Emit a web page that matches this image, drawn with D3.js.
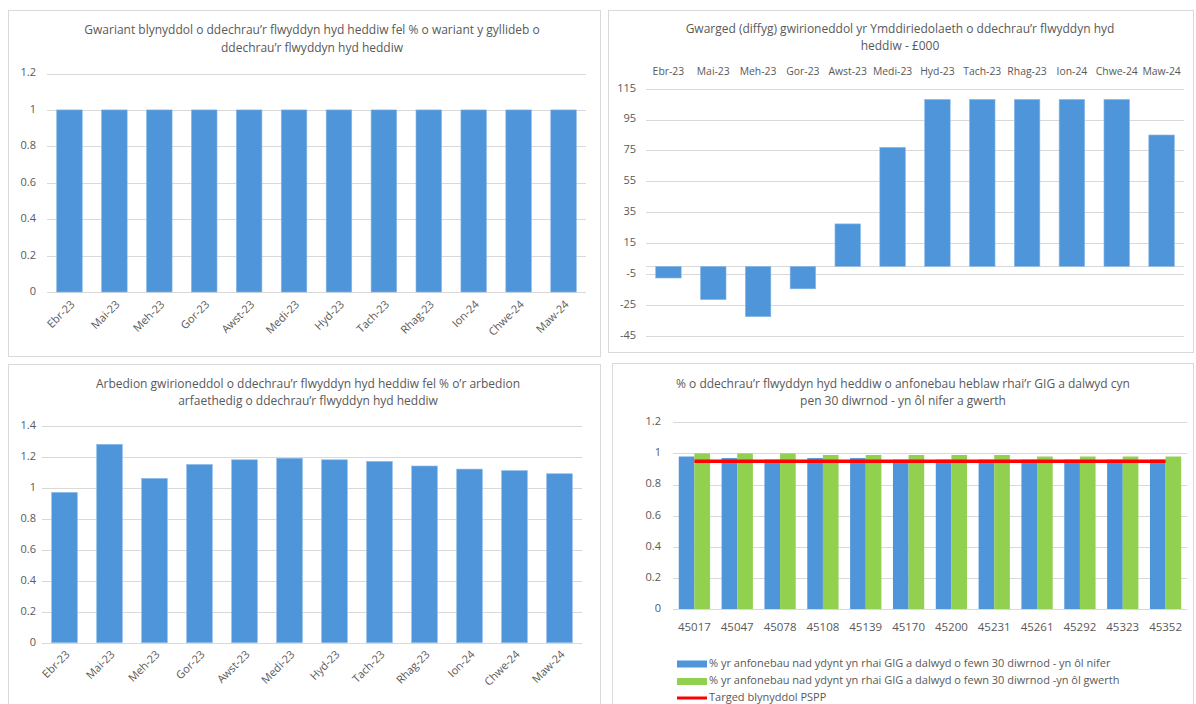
<!DOCTYPE html>
<html>
<head>
<meta charset="utf-8">
<script src="https://cdn.jsdelivr.net/npm/d3@7"></script>
<style>
  html, body { margin: 0; padding: 0; background: #fff; }
  svg { display: block; font-family: "Segoe UI", "Open Sans", "Noto Sans", sans-serif; }
  .tick-label { fill: #595959; font-size: 11px; }
  .title { fill: #595959; font-size: 12px; }
</style>
</head>
<body>
<div id="chart"></div>
<script>
// ---- data ----
const months = ['Ebr-23', 'Mai-23', 'Meh-23', 'Gor-23', 'Awst-23', 'Medi-23', 'Hyd-23', 'Tach-23', 'Rhag-23', 'Ion-24', 'Chwe-24', 'Maw-24'];
const spendRatio = [1, 1, 1, 1, 1, 1, 1, 1, 1, 1, 1, 1];
const surplus = [-7.5, -21.5, -32.5, -14.5, 27.5, 77, 108, 108, 108, 108, 108, 85];
const savingsRatio = [0.97, 1.28, 1.06, 1.15, 1.18, 1.19, 1.18, 1.17, 1.14, 1.12, 1.11, 1.09];
const invoiceDates = ['45017', '45047', '45078', '45108', '45139', '45170', '45200', '45231', '45261', '45292', '45323', '45352'];
const paidByNumber = [0.98, 0.97, 0.96, 0.97, 0.97, 0.96, 0.96, 0.96, 0.96, 0.96, 0.96, 0.96];
const paidByValue = [1.0, 1.0, 1.0, 0.99, 0.99, 0.99, 0.99, 0.99, 0.98, 0.98, 0.98, 0.98];
const pspTarget = 0.95;

const ticks1 = [0, 0.2, 0.4, 0.6, 0.8, 1, 1.2];
const ticks2 = [-45, -25, -5, 15, 35, 55, 75, 95, 115];
const ticks3 = [0, 0.2, 0.4, 0.6, 0.8, 1, 1.2, 1.4];
const ticks4 = [0, 0.2, 0.4, 0.6, 0.8, 1, 1.2];

const titles1 = ['Gwariant blynyddol o ddechrau\u2019r flwyddyn hyd heddiw fel % o wariant y gyllideb o', 'ddechrau\u2019r flwyddyn hyd heddiw'];
const titles2 = ['Gwarged (diffyg) gwirioneddol yr Ymddiriedolaeth o ddechrau\u2019r flwyddyn hyd', 'heddiw - \u00a3000'];
const titles3 = ['Arbedion gwirioneddol o ddechrau\u2019r flwyddyn hyd heddiw fel % o\u2019r arbedion', 'arfaethedig o ddechrau\u2019r flwyddyn hyd heddiw'];
const titles4 = ['% o ddechrau\u2019r flwyddyn hyd heddiw o anfonebau heblaw rhai\u2019r GIG a dalwyd cyn', 'pen 30 diwrnod  - yn \u00f4l nifer a gwerth'];
const legend4 = [
  '% yr anfonebau nad ydynt yn rhai GIG a dalwyd o fewn 30 diwrnod - yn \u00f4l nifer',
  '% yr anfonebau nad ydynt yn rhai GIG a dalwyd o fewn 30 diwrnod -yn \u00f4l gwerth',
  'Targed blynyddol PSPP'
];

const C = { blue: '#4f95d9', blueEdge: '#8dbbe8', green: '#92d050', red: '#ff0000', grid: '#d9d9d9', text: '#595959', border: '#d9d9d9' };
const fmt = d => String(+d.toFixed(1));

const W = 1196, H = 704;
const svg = d3.select('#chart').append('svg').attr('width', W).attr('height', H);

function panelBox(x, y, w, h) {
  svg.append('rect').attr('x', x + 0.5).attr('y', y + 0.5).attr('width', w).attr('height', h)
    .attr('fill', '#fff').attr('stroke', C.border).attr('stroke-width', 1);
}

function panelTitle(lines, cx, y0, dy) {
  lines.forEach((t, i) => {
    svg.append('text').attr('class', 'title').attr('x', cx).attr('y', y0 + i * dy)
      .attr('text-anchor', 'middle').attr('dominant-baseline', 'middle').text(t);
  });
}

function yGrid(y, ticks, x0, x1, labelX) {
  const g = svg.append('g');
  g.selectAll('line').data(ticks).enter().append('line')
    .attr('x1', x0).attr('x2', x1)
    .attr('y1', d => Math.round(y(d)) + 0.5).attr('y2', d => Math.round(y(d)) + 0.5)
    .attr('stroke', C.grid).attr('stroke-width', 1);
  g.selectAll('text').data(ticks).enter().append('text')
    .attr('class', 'tick-label').attr('x', labelX).attr('y', d => y(d))
    .attr('text-anchor', 'end').attr('dominant-baseline', 'middle').text(fmt);
}

function bars(x, y, cats, vals, color, edge) {
  svg.append('g').selectAll('rect').data(vals).enter().append('rect')
    .attr('x', (d, i) => x(cats[i]))
    .attr('width', x.bandwidth())
    .attr('y', d => Math.min(y(d), y(0)))
    .attr('height', d => Math.abs(y(d) - y(0)))
    .attr('fill', color)
    .attr('stroke', edge).attr('stroke-width', 0.6);
}

function rotatedLabels(x, cats, yPos) {
  svg.append('g').selectAll('text').data(cats).enter().append('text')
    .attr('class', 'tick-label')
    .attr('text-anchor', 'end')
    .attr('transform', d => `translate(${x(d) + x.bandwidth() / 2 + 6},${yPos}) rotate(-45)`)
    .text(d => d);
}

// ---- panel 1: spend ratio ----
panelBox(8, 10, 592, 346);
panelTitle(titles1, 312, 31, 18);
{
  const x = d3.scaleBand().domain(months).range([47, 586]).paddingInner(0.43).paddingOuter(0.215);
  const y = d3.scaleLinear().domain([0, 1.2]).range([292, 73.5]);
  yGrid(y, ticks1, 47, 586, 36);
  bars(x, y, months, spendRatio, C.blue, C.blueEdge);
  rotatedLabels(x, months, 305);
}

// ---- panel 2: surplus (deficit) ----
panelBox(608, 10, 585, 342);
panelTitle(titles2, 900, 30, 17);
{
  const x = d3.scaleBand().domain(months).range([646, 1184]).paddingInner(0.43).paddingOuter(0.215);
  const y = d3.scaleLinear().domain([-45, 115]).range([336, 88.6]);
  yGrid(y, ticks2, 646, 1184, 636);
  svg.append('line').attr('x1', 646).attr('x2', 1184)
    .attr('y1', Math.round(y(0)) + 0.5).attr('y2', Math.round(y(0)) + 0.5)
    .attr('stroke', C.grid);
  bars(x, y, months, surplus, C.blue, C.blueEdge);
  svg.append('g').selectAll('text').data(months).enter().append('text')
    .attr('class', 'tick-label').style('font-size', '10.4px')
    .attr('x', d => x(d) + x.bandwidth() / 2).attr('y', 72)
    .attr('text-anchor', 'middle').attr('dominant-baseline', 'middle').text(d => d);
}

// ---- panel 3: savings ratio ----
panelBox(8, 364, 592, 360);
panelTitle(titles3, 308, 385, 17);
{
  const x = d3.scaleBand().domain(months).range([42, 582]).paddingInner(0.43).paddingOuter(0.215);
  const y = d3.scaleLinear().domain([0, 1.4]).range([642.7, 425.7]);
  yGrid(y, ticks3, 42, 582, 36);
  bars(x, y, months, savingsRatio, C.blue, C.blueEdge);
  rotatedLabels(x, months, 655);
}

// ---- panel 4: invoices paid within 30 days ----
panelBox(612, 363, 581, 360);
panelTitle(titles4, 903, 385, 17);
{
  const x = d3.scaleBand().domain(invoiceDates).range([673, 1187]).paddingInner(0.27).paddingOuter(0.135);
  const xs = d3.scaleBand().domain(['n', 'v']).range([0, x.bandwidth()]);
  const y = d3.scaleLinear().domain([0, 1.2]).range([609, 422.3]);
  yGrid(y, ticks4, 673, 1187, 661);

  const groups = svg.append('g').selectAll('g').data(invoiceDates).enter().append('g')
    .attr('transform', d => `translate(${x(d)},0)`);
  groups.append('rect')
    .attr('x', xs('n')).attr('width', xs.bandwidth())
    .attr('y', (d, i) => y(paidByNumber[i])).attr('height', (d, i) => y(0) - y(paidByNumber[i]))
    .attr('fill', C.blue);
  groups.append('rect')
    .attr('x', xs('v')).attr('width', xs.bandwidth())
    .attr('y', (d, i) => y(paidByValue[i])).attr('height', (d, i) => y(0) - y(paidByValue[i]))
    .attr('fill', C.green);

  const line = d3.line().x(d => x(d) + x.bandwidth() / 2).y(() => y(pspTarget));
  svg.append('path').datum(invoiceDates).attr('d', line)
    .attr('fill', 'none').attr('stroke', C.red).attr('stroke-width', 3.5);

  svg.append('g').selectAll('text').data(invoiceDates).enter().append('text')
    .attr('class', 'tick-label').style('font-size', '11.5px')
    .attr('x', d => x(d) + x.bandwidth() / 2).attr('y', 628)
    .attr('text-anchor', 'middle').attr('dominant-baseline', 'middle').text(d => d);

  // legend
  const lg = svg.append('g').attr('transform', 'translate(677,664)');
  [C.blue, C.green].forEach((c, i) => {
    lg.append('rect').attr('x', 0).attr('y', i * 17.5 - 3.5).attr('width', 30).attr('height', 7).attr('fill', c);
  });
  lg.append('line').attr('x1', 0).attr('x2', 30).attr('y1', 34).attr('y2', 34)
    .attr('stroke', C.red).attr('stroke-width', 3);
  legend4.forEach((t, i) => {
    lg.append('text').attr('class', 'tick-label').attr('x', 32).attr('y', i * 17.2)
      .attr('dominant-baseline', 'middle').text(t);
  });
}
</script>
</body>
</html>
